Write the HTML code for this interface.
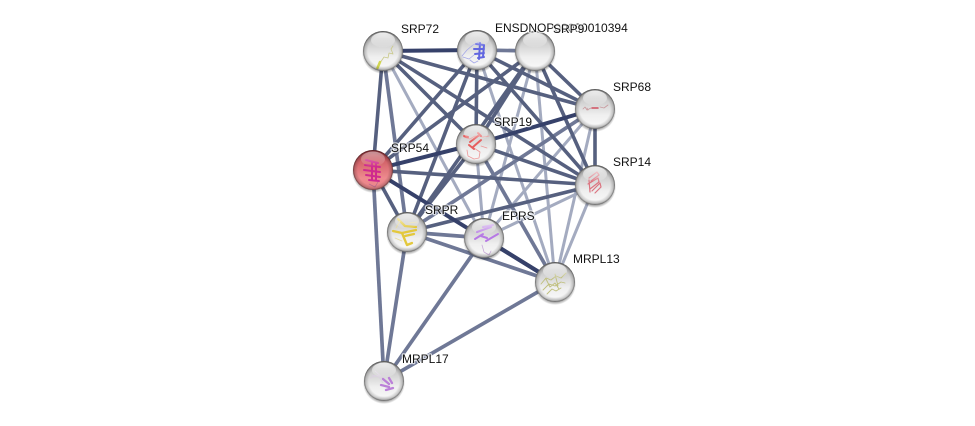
<!DOCTYPE html>
<html>
<head>
<meta charset="utf-8">
<style>
html,body{margin:0;padding:0;background:#fff;width:975px;height:426px;overflow:hidden}
svg{display:block}
text{font-family:"Liberation Sans",sans-serif;font-size:12px;fill:#111;paint-order:stroke;stroke:rgba(255,255,255,.7);stroke-width:2.5px;stroke-linejoin:round}
</style>
</head>
<body>
<svg width="975" height="426" viewBox="0 0 975 426" xmlns="http://www.w3.org/2000/svg">
<defs>
<linearGradient id="b" x1="0" y1="0" x2="0" y2="1">
<stop offset="0" stop-color="#a8a8a8"/><stop offset=".3" stop-color="#cfcfcf"/><stop offset=".65" stop-color="#efefef"/><stop offset=".88" stop-color="#f6f6f6"/><stop offset="1" stop-color="#d8d8d8"/>
</linearGradient>
<linearGradient id="r" x1="0" y1="0" x2="0" y2="1">
<stop offset="0" stop-color="#a83a42"/><stop offset=".3" stop-color="#d4656b"/><stop offset=".7" stop-color="#ee8a8e"/><stop offset="1" stop-color="#ea8589"/>
</linearGradient>
<radialGradient id="rim" cx="50%" cy="50%" r="50%">
<stop offset=".76" stop-color="#000" stop-opacity="0"/><stop offset=".92" stop-color="#000" stop-opacity=".18"/><stop offset="1" stop-color="#000" stop-opacity=".58"/>
</radialGradient>
<linearGradient id="g" x1="0" y1="0" x2="0" y2="1">
<stop offset="0" stop-color="#fff" stop-opacity=".85"/><stop offset="1" stop-color="#fff" stop-opacity=".05"/>
</linearGradient>
<radialGradient id="s" cx="50%" cy="50%" r="50%">
<stop offset=".82" stop-color="#000" stop-opacity=".45"/><stop offset="1" stop-color="#000" stop-opacity="0"/>
</radialGradient>
</defs>

<!-- light edges -->
<g fill="none" stroke="#a4abc0" stroke-width="3">
<line x1="383" y1="51" x2="484" y2="238"/>
<line x1="477" y1="50" x2="555" y2="282"/>
<line x1="535" y1="51" x2="484" y2="238"/>
<line x1="535" y1="51" x2="555" y2="282"/>
<line x1="595" y1="109" x2="484" y2="238"/>
<line x1="595" y1="109" x2="555" y2="282"/>
<line x1="595" y1="185" x2="555" y2="282"/>
<line x1="595" y1="185" x2="484" y2="238"/>
<line x1="476" y1="144" x2="484" y2="238"/>
</g>
<!-- medium edges -->
<g fill="none" stroke="#6f7896" stroke-width="3.700">
<line x1="476" y1="144" x2="555" y2="282"/>
<line x1="407" y1="232" x2="555" y2="282"/>
<line x1="407" y1="232" x2="484" y2="238"/>
<line x1="595" y1="109" x2="407" y2="232"/>
<line x1="484" y1="238" x2="384" y2="381"/>
<line x1="555" y1="282" x2="384" y2="381"/>
<line x1="407" y1="232" x2="384" y2="381"/>
<line x1="373" y1="170" x2="384" y2="381"/>
<line x1="383" y1="51" x2="407" y2="232"/>
<line x1="477" y1="50" x2="535" y2="51"/>
</g>
<!-- dark edges -->
<g fill="none" stroke="#56607f" stroke-width="3.600">
<line x1="383" y1="51" x2="373" y2="170"/>
<line x1="383" y1="51" x2="595" y2="109"/>
<line x1="383" y1="51" x2="595" y2="185"/>
<line x1="383" y1="51" x2="476" y2="144"/>
<line x1="477" y1="50" x2="595" y2="109"/>
<line x1="477" y1="50" x2="595" y2="185"/>
<line x1="477" y1="50" x2="476" y2="144"/>
<line x1="477" y1="50" x2="373" y2="170"/>
<line x1="477" y1="50" x2="407" y2="232"/>
<line x1="535" y1="51" x2="595" y2="109"/>
<line x1="535" y1="51" x2="595" y2="185"/>
<line x1="535" y1="51" x2="373" y2="170"/>
<line x1="535" y1="51" x2="407" y2="232"/>
<line x1="535" y1="51" x2="476" y2="144"/>
<line x1="595" y1="109" x2="595" y2="185"/>
<line x1="373" y1="170" x2="595" y2="185"/>
<line x1="373" y1="170" x2="407" y2="232"/>
<line x1="595" y1="185" x2="407" y2="232"/>
<line x1="476" y1="144" x2="407" y2="232"/>
<line x1="476" y1="144" x2="595" y2="185"/>
</g>
<!-- darkest edges -->
<g fill="none" stroke="#36416a" stroke-width="4">
<line x1="383" y1="51" x2="477" y2="50"/>
<line x1="373" y1="170" x2="476" y2="144"/>
<line x1="373" y1="170" x2="555" y2="282"/>
<line x1="476" y1="144" x2="595" y2="109"/>
<line x1="484" y1="238" x2="555" y2="282"/>
</g>

<!-- shadows -->
<g fill="url(#s)">
<circle cx="383" cy="53" r="21"/><circle cx="477" cy="52" r="21"/><circle cx="535" cy="53" r="21"/>
<circle cx="595" cy="111" r="21"/><circle cx="476" cy="146" r="21"/><circle cx="373" cy="172" r="21"/>
<circle cx="595" cy="187" r="21"/><circle cx="407" cy="234" r="21"/><circle cx="484" cy="240" r="21"/>
<circle cx="555" cy="284" r="21"/><circle cx="384" cy="383" r="21"/>
</g>
<!-- balls -->
<g fill="url(#b)">
<circle cx="383" cy="51" r="20"/><circle cx="477" cy="50" r="20"/><circle cx="535" cy="51" r="20"/>
<circle cx="595" cy="109" r="20"/><circle cx="476" cy="144" r="20"/>
<circle cx="595" cy="185" r="20"/><circle cx="407" cy="232" r="20"/><circle cx="484" cy="238" r="20"/>
<circle cx="555" cy="282" r="20"/><circle cx="384" cy="381" r="20"/>
</g>
<circle cx="373" cy="170" r="20" fill="url(#r)"/>

<!-- structures -->
<g fill="none" stroke-linecap="round" stroke-linejoin="round">
<path d="M380 63l4-6 4 1 1-5 4 1-2-5 2-3" stroke="#c9c98a" stroke-width=".8"/>
<path d="M377.500 68l2.500-6" stroke="#d2d650" stroke-width="2.500"/>
<path d="M462 56l5-6 6-5 6-3M463 57l6 2 5-4M470 60l4 3 4-2" stroke="#a5a8e8" stroke-width=".8"/>
<path d="M476 44l8 1M474 49l10 0M475 54l9-1M478 58l6-1M480 43l-1 16M484 45l-1 12" stroke="#6166e0" stroke-width="2"/>
<path d="M583 109l2-2 2 3 4-2M600 107l4 1 4-3M588 110l-1-2" stroke="#c89a9e" stroke-width=".8"/>
<path d="M592 108h6" stroke="#d05060" stroke-width="1.500"/>
<path d="M464 137l6 2 5-3 8 1 6-1M467 150l1 6 6 3 5-1 1-6-6-4M481 146l6 2" stroke="#ec9a9a" stroke-width=".8"/>
<path d="M464 136l4 1M470 142l8-6M473 147l8-7M478 133l3 3M469 145l5 4" stroke="#e65f5f" stroke-width="2"/>
<path d="M366 160l12 3M365 165l15 2M364 170l16 2M366 175l14 2M369 180l10 1M372 162l0 18M376 163l0 17" stroke="#cf2a8e" stroke-width="2"/>
<path d="M369 184l6 3 3-5" stroke="#b56a90" stroke-width=".7"/>
<path d="M589 178l8-6 2 3-8 6M588 184l10-6 1 4-9 7M592 191l8-8 1 4-6 6M589 180l1 12" stroke="#dc7480" stroke-width="1.200"/>
<path d="M398 219l7 7 11 1M393 231l9 2 14-3M402 233l5 12 5-2M405 236l9-2" stroke="#e3c83c" stroke-width="2.300"/>
<path d="M396 228l4-7M409 223l8-1M395 238l7 3" stroke="#e8dc9c" stroke-width=".8"/>
<path d="M475 239l8-5M483 227l10-2M477 232l14-5M486 241l12-7M481 236l6 2" stroke="#b679e4" stroke-width="2"/>
<path d="M482 245l2 7 5 3 2-4" stroke="#c8aad8" stroke-width=".8"/>
<path d="M541 284l5-6 5 2 5-4 5 2 5-5M543 290l6-6 6 2 6-4 4 1M547 294l5-5 4 2 5-3M546 279l4 8 5-4 4 6M555 274l3 12" stroke="#bfbf7c" stroke-width=".9"/>
<path d="M372 375l7 2 4 6M375 371l9 8M370 378l9-3" stroke="#dcd0e2" stroke-width=".8"/>
<path d="M381 385l8 2M383 379l6 5M386 390l7-2M389 378l3 5" stroke="#bb80d8" stroke-width="2.300"/>
</g>

<!-- rim + highlights -->
<g fill="url(#rim)">
<circle cx="383" cy="51" r="20"/><circle cx="477" cy="50" r="20"/><circle cx="535" cy="51" r="20"/>
<circle cx="595" cy="109" r="20"/><circle cx="476" cy="144" r="20"/><circle cx="373" cy="170" r="20"/>
<circle cx="595" cy="185" r="20"/><circle cx="407" cy="232" r="20"/><circle cx="484" cy="238" r="20"/>
<circle cx="555" cy="282" r="20"/><circle cx="384" cy="381" r="20"/>
</g>
<g fill="url(#g)">
<ellipse cx="383" cy="40" rx="12" ry="7.500"/><ellipse cx="477" cy="39" rx="12" ry="7.500"/><ellipse cx="535" cy="40" rx="12" ry="7.500"/>
<ellipse cx="595" cy="98" rx="12" ry="7.500"/><ellipse cx="476" cy="133" rx="12" ry="7.500"/><ellipse cx="373" cy="159" rx="12" ry="7.500" opacity=".55"/>
<ellipse cx="595" cy="174" rx="12" ry="7.500"/><ellipse cx="407" cy="221" rx="12" ry="7.500"/><ellipse cx="484" cy="227" rx="12" ry="7.500"/>
<ellipse cx="555" cy="271" rx="12" ry="7.500"/><ellipse cx="384" cy="370" rx="12" ry="7.500"/>
</g>

<!-- labels -->
<text x="401" y="33">SRP72</text>
<text x="495" y="32">ENSDNOP00000010394</text>
<text x="553" y="33">SRP9</text>
<text x="613" y="91">SRP68</text>
<text x="494" y="126">SRP19</text>
<text x="391" y="152">SRP54</text>
<text x="613" y="166">SRP14</text>
<text x="425" y="214">SRPR</text>
<text x="502" y="220">EPRS</text>
<text x="573" y="263">MRPL13</text>
<text x="402" y="363">MRPL17</text>
</svg>
</body>
</html>
